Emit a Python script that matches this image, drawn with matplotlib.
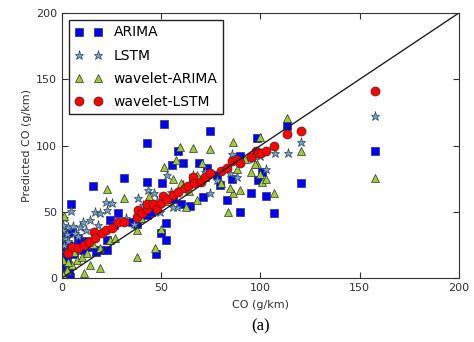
import numpy as np
import matplotlib
matplotlib.use("Agg")
import matplotlib.pyplot as plt

plt.rcParams['font.family'] = ['DejaVu Sans']

arima_x = [0.7, 2.3, 2.3, 4.0, 4.4, 10.7, 14.0, 15.8, 19.0, 22.5, 22.5, 24.0, 28.4, 31.2, 37.6,
           42.6, 42.6, 43.0, 47.3, 50.0, 50.5, 51.5, 52.2, 52.2, 55.5, 58.6, 61.0, 64.7, 69.0,
           70.8, 72.8, 74.5, 79.5, 83.2, 85.7, 89.6, 89.6, 95.0, 98.3, 98.8, 100.8, 102.6,
           107.0, 113.4, 120.6, 157.7, 1.5, 3.0, 6.0, 8.0, 1.0, 5.0, 12.0, 17.0, 26.0, 35.0,
           45.0, 56.0, 60.0, 66.0, 78.0, 87.0, 0.5, 2.0, 7.0, 9.0, 3.5]
arima_y = [21, 33.8, 13.6, 1, 56, 21, 23.7, 69.5, 21, 28.7, 21, 44, 49, 75.6, 41,
           101.8, 47.6, 72.8, 18, 34, 72, 115.9, 41.8, 29, 85, 95.5, 86.6, 54.4, 86.6,
           61.5, 83, 110.6, 70, 59, 74.5, 50, 92, 64, 105.5, 74, 80, 62,
           49, 115, 72, 95.5, 28, 25, 18, 30, 8, 35, 28, 20, 40, 42,
           50, 60, 56, 73, 78, 90, 3, 17, 24, 27, 5]

lstm_x = [4.5, 16.6, 22.0, 25.0, 19.0, 22.5, 10.7, 14.0, 3.2, 5.7, 9.0, 0.7, 38.4, 43.5, 46.3,
          52.7, 57.7, 60.7, 69.5, 74.8, 85.7, 88.3, 84.6, 96.3, 103.0, 107.2, 113.9, 120.6,
          157.7, 36.0, 49.3, 56.0, 1.5, 2.5, 6.5, 8.0, 12.0, 1.0, 3.0, 18.0, 27.0, 32.0, 41.0,
          48.0, 55.0, 62.0, 66.0, 72.0, 78.0, 90.0, 100.0, 0.5, 0.8, 2.0]
lstm_y = [50.6, 50, 57.7, 56.4, 48.9, 51, 42.6, 43.8, 38.8, 39.3, 38.8, 36, 60.2, 66.5, 64,
          77.8, 53.9, 70.3, 74, 64.5, 93.7, 76.6, 79, 89.7, 82, 94.7, 94.7, 103,
          122, 40.8, 50, 53.9, 30, 33, 34, 32, 36, 25, 28, 40, 42, 45, 55,
          58, 65, 68, 78, 80, 74, 88, 92, 40, 45, 20]

warima_x = [1.0, 22.5, 31.4, 19.0, 11.0, 14.0, 37.6, 42.6, 50.0, 47.0, 51.5, 59.3, 65.8, 74.8,
            57.4, 62.7, 70.3, 67.8, 83.4, 86.0, 86.3, 89.6, 95.0, 98.3, 99.6, 99.6, 101.0,
            102.6, 107.0, 113.4, 120.6, 157.7, 84.7, 2.3, 4.9, 7.4, 9.9, 12.4, 15.8, 19.0,
            24.0, 26.7, 0.7, 0.5, 3.0, 6.0, 38.0, 40.0, 44.0, 53.0, 56.0, 60.0, 64.0, 68.0,
            72.0, 80.0, 88.0, 92.0, 97.0]
warima_y = [46.9, 67, 60.7, 7.3, 4, 9.8, 16, 57.7, 36.8, 22.4, 83.6, 99, 98, 97,
            88.7, 53.9, 87, 59, 50, 102.5, 64.5, 66.5, 80.3, 86, 106.8, 78.3, 72.8,
            74.5, 64.5, 120.6, 95.5, 75.3, 67.8, 6, 9.8, 13.6, 16, 18.6, 26, 22.4,
            28.7, 30, 13.6, 2, 12, 20, 36, 45, 62, 58, 75, 72, 66, 78,
            76, 72, 82, 90, 86]

wlstm_x = [2.9, 4.9, 7.9, 11.0, 13.8, 16.0, 16.6, 20.0, 22.0, 25.0, 28.0, 31.0, 37.6, 38.4,
           40.4, 42.6, 43.0, 46.0, 47.6, 50.0, 51.0, 52.7, 55.7, 58.6, 62.0, 63.6, 65.8, 66.6,
           70.0, 72.0, 74.8, 80.0, 83.0, 85.7, 88.0, 89.6, 95.0, 98.0, 99.0, 100.5, 103.0,
           107.0, 113.4, 120.6, 157.7]
wlstm_y = [19, 23.7, 23, 25, 27, 34.5, 30, 33.8, 36, 38, 42, 42.6, 46.4, 51,
           49, 52, 55.7, 56, 52, 57, 62, 59.4, 62.7, 65, 67.8, 69.8, 76.6, 72,
           72.8, 76, 79, 81, 83, 88, 89, 87, 91.7, 96, 94, 94.7, 95.5,
           99.7, 108.8, 110.6, 141.3]

fig = plt.figure(figsize=(4.74, 3.42), dpi=100)
ax = fig.add_axes([0.131, 0.187, 0.837, 0.775])

ax.plot(arima_x, arima_y, 's', color='#0000ff', mec='#333366', mew=0.5, ms=6, label='ARIMA')
ax.plot(lstm_x, lstm_y, '*', color='#6fa3c8', mec='#334455', mew=0.5, ms=6.5, label='LSTM')
ax.plot(warima_x, warima_y, '^', color='#9acd32', mec='#333333', mew=0.5, ms=6, label='wavelet-ARIMA')
ax.plot(wlstm_x, wlstm_y, 'o', color='#ff0000', mec='#552222', mew=0.5, ms=6.5, label='wavelet-LSTM')
ax.plot([0, 200], [0, 200], color='#222222', lw=1)

ax.set_xlim(0, 200)
ax.set_ylim(0, 200)
ax.set_xticks([0, 50, 100, 150, 200])
ax.set_yticks([0, 50, 100, 150, 200])
ax.tick_params(direction='in', top=True, right=True, labelsize=8, length=4, colors='#333333')
ax.set_xlabel('CO (g/km)', fontsize=8, color='#333333', labelpad=5)
ax.set_ylabel('Predicted CO (g/km)', fontsize=8, color='#333333', labelpad=3)
for s in ax.spines.values():
    s.set_color('#333333')

leg = ax.legend(loc='upper left', numpoints=2, fontsize=10, fancybox=False, framealpha=1,
                edgecolor='#222222', handlelength=2, borderaxespad=0.5, labelspacing=0.65)
leg.get_frame().set_linewidth(1)

fig.text(0.549, 0.045, '(a)', ha='center', va='center', fontsize=12, family='Liberation Serif')

fig.savefig('out.png', dpi=100)
